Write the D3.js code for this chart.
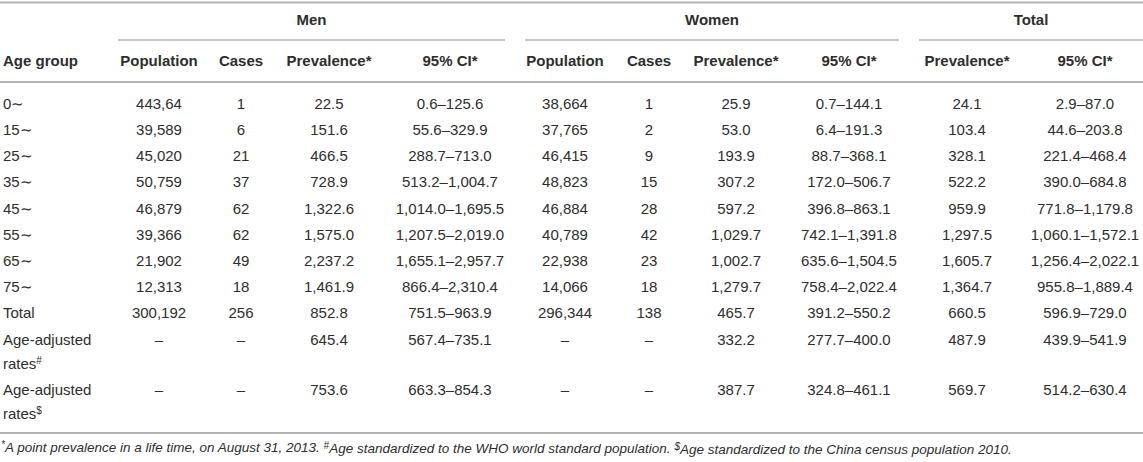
<!DOCTYPE html>
<html>
<head>
<meta charset="utf-8">
<script src="https://cdn.jsdelivr.net/npm/d3@7"></script>
<style>
  body { margin: 0; background: #fff; }
  svg text { font-family: "Liberation Sans", Arial, sans-serif; fill: #2e2e2e; }
</style>
</head>
<body>
<div id="table"></div>
<script>
// table values
var ageGroups = ["0\u223C", "15\u223C", "25\u223C", "35\u223C", "45\u223C", "55\u223C", "65\u223C", "75\u223C", "Total", "Age-adjusted|rates|#", "Age-adjusted|rates|$"];
var menPop = ["443,64", "39,589", "45,020", "50,759", "46,879", "39,366", "21,902", "12,313", "300,192", "\u2013", "\u2013"];
var menCases = ["1", "6", "21", "37", "62", "62", "49", "18", "256", "\u2013", "\u2013"];
var menPrev = ["22.5", "151.6", "466.5", "728.9", "1,322.6", "1,575.0", "2,237.2", "1,461.9", "852.8", "645.4", "753.6"];
var menCI = ["0.6\u2013125.6", "55.6\u2013329.9", "288.7\u2013713.0", "513.2\u20131,004.7", "1,014.0\u20131,695.5", "1,207.5\u20132,019.0", "1,655.1\u20132,957.7", "866.4\u20132,310.4", "751.5\u2013963.9", "567.4\u2013735.1", "663.3\u2013854.3"];
var womenPop = ["38,664", "37,765", "46,415", "48,823", "46,884", "40,789", "22,938", "14,066", "296,344", "\u2013", "\u2013"];
var womenCases = ["1", "2", "9", "15", "28", "42", "23", "18", "138", "\u2013", "\u2013"];
var womenPrev = ["25.9", "53.0", "193.9", "307.2", "597.2", "1,029.7", "1,002.7", "1,279.7", "465.7", "332.2", "387.7"];
var womenCI = ["0.7\u2013144.1", "6.4\u2013191.3", "88.7\u2013368.1", "172.0\u2013506.7", "396.8\u2013863.1", "742.1\u20131,391.8", "635.6\u20131,504.5", "758.4\u20132,022.4", "391.2\u2013550.2", "277.7\u2013400.0", "324.8\u2013461.1"];
var totalPrev = ["24.1", "103.4", "328.1", "522.2", "959.9", "1,297.5", "1,605.7", "1,364.7", "660.5", "487.9", "569.7"];
var totalCI = ["2.9\u201387.0", "44.6\u2013203.8", "221.4\u2013468.4", "390.0\u2013684.8", "771.8\u20131,179.8", "1,060.1\u20131,572.1", "1,256.4\u20132,022.1", "955.8\u20131,889.4", "596.9\u2013729.0", "439.9\u2013541.9", "514.2\u2013630.4"];
var groups = ["Men", "Women", "Total"];
var colHeads = ["Population", "Cases", "Prevalence*", "95% CI*", "Population", "Cases", "Prevalence*", "95% CI*", "Prevalence*", "95% CI*"];

var width = 1143, height = 462;
var lineColor = "#b2b2b2";

var svg = d3.select("#table").append("svg")
    .attr("width", width)
    .attr("height", height);

// column centres
var columns = [menPop, menCases, menPrev, menCI, womenPop, womenCases, womenPrev, womenCI, totalPrev, totalCI];
var colX = d3.scaleOrdinal()
    .domain(d3.range(columns.length))
    .range([159, 241, 329, 450, 565, 649, 736, 849, 967, 1085]);

var groupSpan = d3.scaleOrdinal()
    .domain(groups)
    .range([[118, 505], [525, 899], [919, 1143]]);

// row positions: single rows then two-line rows
var rowY = d3.scaleLinear().domain([0, 1]).range([103.5, 129.7]);
function rowCenter(i) {
  return i <= 9 ? rowY(i) : rowY(9) + (i - 9) * 50;
}

// rules
function hline(x1, x2, y, w) {
  svg.append("line")
    .attr("x1", x1).attr("x2", x2)
    .attr("y1", y).attr("y2", y)
    .attr("stroke", lineColor)
    .attr("stroke-width", w);
}
hline(0, width, 2.5, 2);
groups.forEach(function(g) { var s = groupSpan(g); hline(s[0], s[1], 40, 1.5); });
hline(0, width, 82, 2);
hline(0, width, 433, 2);

// group headings
svg.selectAll(".grp")
  .data(groups)
  .enter().append("text")
    .attr("class", "grp")
    .attr("x", function(d) { var s = groupSpan(d); return (s[0] + s[1]) / 2; })
    .attr("y", 20)
    .attr("dy", "0.35em")
    .attr("text-anchor", "middle")
    .style("font-size", "15px")
    .style("font-weight", "bold")
    .text(function(d) { return d; });

// column headings
svg.append("text")
    .attr("x", 3).attr("y", 61).attr("dy", "0.35em")
    .style("font-size", "15px").style("font-weight", "bold")
    .text("Age group");
svg.selectAll(".head")
  .data(colHeads)
  .enter().append("text")
    .attr("class", "head")
    .attr("x", function(d, i) { return colX(i); })
    .attr("y", 61)
    .attr("dy", "0.35em")
    .attr("text-anchor", "middle")
    .style("font-size", "15px")
    .style("font-weight", "bold")
    .text(function(d) { return d; });

// row labels
var lab = svg.selectAll(".lab")
  .data(ageGroups)
  .enter().append("text")
    .attr("class", "lab")
    .attr("x", 3)
    .attr("y", function(d, i) { return rowCenter(i); })
    .attr("dy", "0.35em")
    .style("font-size", "15px");
lab.each(function(d) {
  var parts = d.split("|");
  var t = d3.select(this);
  if (parts.length === 1) { t.text(d); return; }
  t.append("tspan").text(parts[0]);
  t.append("tspan").attr("x", 3).attr("dy", 24).text(parts[1]);
  t.append("tspan").attr("dy", -5).style("font-size", "10px").text(parts[2]);
});

// cells
columns.forEach(function(col, ci) {
  svg.selectAll(".c" + ci)
    .data(col)
    .enter().append("text")
      .attr("class", "c" + ci)
      .attr("x", colX(ci))
      .attr("y", function(d, i) { return rowCenter(i); })
      .attr("dy", "0.35em")
      .attr("text-anchor", "middle")
      .style("font-size", "15px")
      .text(function(d) { return d; });
});

// footnote
var fn = svg.append("text")
    .attr("x", 1).attr("y", 451).attr("dy", "0.35em")
    .style("font-size", "13.5px").style("font-style", "italic");
fn.append("tspan").attr("dy", "-0.3em").style("font-size", "10px").text("*");
fn.append("tspan").attr("dy", "0.3em").text("A point prevalence in a life time, on August 31, 2013. ");
fn.append("tspan").attr("dy", "-0.3em").style("font-size", "10px").text("#");
fn.append("tspan").attr("dy", "0.3em").text("Age standardized to the WHO world standard population. ");
fn.append("tspan").attr("dy", "-0.3em").style("font-size", "10px").text("$");
fn.append("tspan").attr("dy", "0.3em").text("Age standardized to the China census population 2010.");
</script>
</body>
</html>
